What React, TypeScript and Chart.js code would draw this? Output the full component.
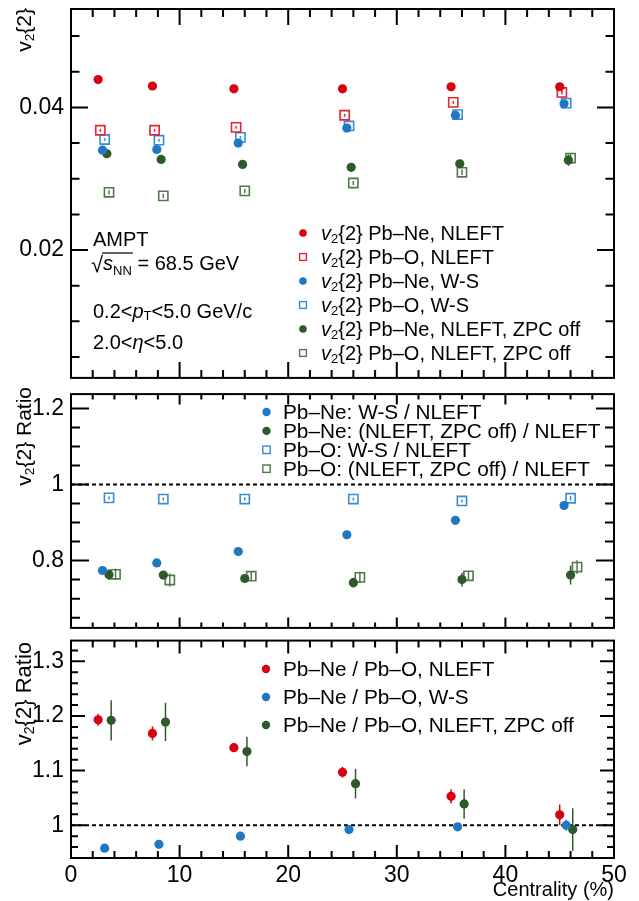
import React, { useEffect, useRef } from "react";
import { Chart, registerables } from "chart.js";

Chart.register(...registerables);

// ---------------- data ----------------
const centrality = [2.5, 7.5, 15, 25, 35, 45];
const xTickValues = [0, 10, 20, 30, 40, 50];

// top panel: v2{2}
const v2PbNeNleft = [0.0439, 0.043, 0.0426, 0.0426, 0.0429, 0.0429];
const v2PbONleft = [0.0368, 0.0368, 0.0372, 0.0389, 0.0407, 0.0421];
const v2PbNeWS = [0.034, 0.0341, 0.035, 0.0371, 0.0389, 0.0405];
const v2PbOWS = [0.0355, 0.0354, 0.0358, 0.0374, 0.039, 0.0406];
const v2PbNeZpc = [0.0335, 0.0327, 0.032, 0.0316, 0.0321, 0.0326];
const v2PbOZpc = [0.0281, 0.0276, 0.0283, 0.0294, 0.0309, 0.0329];

const v2PbNeNleftErr = [0.0002, 0.0002, 0.0002, 0.0002, 0.0002, 0.0003];
const v2PbONleftErr = [0.0002, 0.0002, 0.0002, 0.0002, 0.0002, 0.0003];
const v2PbNeWSErr = [0.0002, 0.0002, 0.0002, 0.0002, 0.0002, 0.0003];
const v2PbOWSErr = [0.0002, 0.0002, 0.0002, 0.0002, 0.0002, 0.0003];
const v2PbNeZpcErr = [0.0004, 0.0004, 0.0003, 0.0003, 0.0005, 0.0008];
const v2PbOZpcErr = [0.0003, 0.0003, 0.0003, 0.0003, 0.0004, 0.0006];

// middle panel: ratios to NLEFT
const ratioNeWS = [0.774, 0.794, 0.824, 0.868, 0.906, 0.945];
const ratioNeZpc = [0.763, 0.762, 0.753, 0.742, 0.75, 0.762];
const ratioOWS = [0.965, 0.962, 0.962, 0.962, 0.957, 0.964];
const ratioOZpc = [0.764, 0.749, 0.759, 0.756, 0.76, 0.783];

const ratioNeWSErr = [0.005, 0.005, 0.005, 0.006, 0.006, 0.012];
const ratioNeZpcErr = [0.014, 0.01, 0.01, 0.013, 0.018, 0.025];
const ratioOWSErr = [0.004, 0.004, 0.004, 0.004, 0.004, 0.006];
const ratioOZpcErr = [0.015, 0.017, 0.013, 0.015, 0.012, 0.018];

// bottom panel: Pb-Ne / Pb-O
const neOverONleft = [1.193, 1.168, 1.142, 1.097, 1.053, 1.019];
const neOverOWS = [0.958, 0.965, 0.98, 0.992, 0.997, 1.0];
const neOverOZpc = [1.192, 1.189, 1.135, 1.076, 1.039, 0.992];

const neOverONleftErr = [0.011, 0.013, 0.008, 0.01, 0.013, 0.019];
const neOverOWSErr = [0.003, 0.003, 0.003, 0.005, 0.004, 0.01];
const neOverOZpcErr = [0.037, 0.035, 0.027, 0.027, 0.027, 0.039];

const topYTicks = [0.02, 0.04];
const midYTicks = [0.8, 1, 1.2];
const botYTicks = [1, 1.1, 1.2, 1.3];

// ---------------- styles ----------------
const FONT = '"Liberation Sans", Arial, Helvetica, sans-serif';
const RED = "#d9000f";
const RED_O = "#e0262e";
const BLUE = "#1f78c4";
const BLUE_O = "#3a8bd2";
const GREEN = "#2e5a29";
const GREEN_O = "#52794c";

type Seg = { t: string; it?: boolean; sub?: boolean; dy?: number };

function drawRich(ctx: CanvasRenderingContext2D, segs: Seg[], x: number, y: number, size: number) {
  let cx = x;
  for (const s of segs) {
    const fs = s.sub ? size * 0.65 : size;
    ctx.font = `${s.it ? "italic " : ""}${fs}px ${FONT}`;
    const dy = s.dy ?? (s.sub ? 3 : 0);
    ctx.fillText(s.t, cx, y + dy);
    cx += ctx.measureText(s.t).width;
  }
  return cx;
}

function richWidth(ctx: CanvasRenderingContext2D, segs: Seg[], size: number) {
  let w = 0;
  for (const s of segs) {
    const fs = s.sub ? size * 0.65 : size;
    ctx.font = `${s.it ? "italic " : ""}${fs}px ${FONT}`;
    w += ctx.measureText(s.t).width;
  }
  return w;
}

function drawMarker(ctx: CanvasRenderingContext2D, kind: string, color: string, x: number, y: number, s: number) {
  ctx.save();
  if (kind === "circle") {
    ctx.fillStyle = color;
    ctx.beginPath();
    ctx.arc(x, y, s, 0, Math.PI * 2);
    ctx.fill();
  } else {
    ctx.strokeStyle = color;
    ctx.lineWidth = 1.4;
    ctx.strokeRect(x - s, y - s, 2 * s, 2 * s);
  }
  ctx.restore();
}

type LegendItem = { segs: Seg[]; kind: string; color: string; s: number };
type PanelCfg = {
  yMajor: number[];
  yMinorStep: number;
  yMajorLen: number;
  yMinorLen: number;
  xMajorLen: number;
  xMinorLen: number;
  dashedAt?: number;
  legend: { mx: number; tx: number; y0: number; dy: number; size: number; items: LegendItem[] };
  yTitle: Seg[];
  yTitleSize: number;
  yTitleX: number;
  yTitleTop: number;
  extra?: (ctx: CanvasRenderingContext2D) => void;
};

function panelPlugin(cfg: PanelCfg) {
  return {
    id: "rootPanel",
    beforeDatasetsDraw(chart: any) {
      const { ctx, chartArea: a } = chart;
      const xs = chart.scales.x;
      const ys = chart.scales.y;
      ctx.save();
      if (cfg.dashedAt !== undefined) {
        const py = ys.getPixelForValue(cfg.dashedAt);
        ctx.strokeStyle = "#000";
        ctx.lineWidth = 2;
        ctx.setLineDash([4, 3]);
        ctx.beginPath();
        ctx.moveTo(a.left, py);
        ctx.lineTo(a.right, py);
        ctx.stroke();
        ctx.setLineDash([]);
      }
      chart.data.datasets.forEach((ds: any) => {
        if (!ds.errors) return;
        ctx.strokeStyle = ds.errColor;
        ctx.lineWidth = 1.5;
        ds.data.forEach((p: any, j: number) => {
          const e = ds.errors[j];
          const px = xs.getPixelForValue(p.x);
          ctx.beginPath();
          ctx.moveTo(px, ys.getPixelForValue(p.y - e));
          ctx.lineTo(px, ys.getPixelForValue(p.y + e));
          ctx.stroke();
        });
      });
      ctx.restore();
    },
    afterDraw(chart: any) {
      const { ctx, chartArea: a } = chart;
      const xs = chart.scales.x;
      const ys = chart.scales.y;
      ctx.save();
      ctx.strokeStyle = "#000";
      ctx.lineWidth = 2;
      ctx.strokeRect(a.left, a.top, a.right - a.left, a.bottom - a.top);
      ctx.beginPath();
      // x ticks (major every 10, minor every 2)
      for (let k = 0; k <= 25; k++) {
        const v = k * 2;
        const px = xs.getPixelForValue(v);
        if (px < a.left - 0.5 || px > a.right + 0.5) continue;
        const L = v % 10 === 0 ? cfg.xMajorLen : cfg.xMinorLen;
        ctx.moveTo(px, a.bottom);
        ctx.lineTo(px, a.bottom - L);
        ctx.moveTo(px, a.top);
        ctx.lineTo(px, a.top + L);
      }
      // y ticks
      const k0 = Math.ceil(ys.min / cfg.yMinorStep - 1e-6);
      const k1 = Math.floor(ys.max / cfg.yMinorStep + 1e-6);
      for (let k = k0; k <= k1; k++) {
        const v = k * cfg.yMinorStep;
        const major = cfg.yMajor.some((m) => Math.abs(m - v) < cfg.yMinorStep * 1e-3);
        const L = major ? cfg.yMajorLen : cfg.yMinorLen;
        const py = ys.getPixelForValue(v);
        ctx.moveTo(a.left, py);
        ctx.lineTo(a.left + L, py);
        ctx.moveTo(a.right, py);
        ctx.lineTo(a.right - L, py);
      }
      ctx.stroke();

      // legend
      ctx.fillStyle = "#000";
      ctx.textBaseline = "alphabetic";
      ctx.textAlign = "left";
      const lg = cfg.legend;
      lg.items.forEach((it, i) => {
        const cy = lg.y0 + i * lg.dy;
        drawMarker(ctx, it.kind, it.color, lg.mx, cy, it.s);
        ctx.fillStyle = "#000";
        drawRich(ctx, it.segs, lg.tx, cy + lg.size * 0.36, lg.size);
      });

      // y title (rotated, aligned to top)
      const tsize = cfg.yTitleSize;
      const w = richWidth(ctx, cfg.yTitle, tsize);
      ctx.save();
      ctx.translate(cfg.yTitleX, cfg.yTitleTop);
      ctx.rotate(-Math.PI / 2);
      ctx.fillStyle = "#000";
      drawRich(ctx, cfg.yTitle, -w, 0, tsize);
      ctx.restore();

      if (cfg.extra) cfg.extra(ctx);
      ctx.restore();
    },
  };
}

function pts(values: number[], shift: number) {
  return values.map((v, i) => ({ x: centrality[i] + shift, y: v }));
}

function ds(label: string, values: number[], errs: number[], shift: number, kind: string, color: string) {
  const circle = kind === "circle";
  return {
    label,
    data: pts(values, shift),
    errors: errs,
    errColor: color,
    pointStyle: circle ? "circle" : "rect",
    pointRadius: circle ? 4.6 : 6.5,
    pointBackgroundColor: circle ? color : "rgba(0,0,0,0)",
    pointBorderColor: color,
    pointBorderWidth: circle ? 0 : 1.6,
    borderColor: color,
    backgroundColor: color,
    showLine: false,
  };
}

function yScale(min: number, max: number, ticks: number[]) {
  return {
    type: "linear",
    min,
    max,
    afterBuildTicks: (s: any) => {
      s.ticks = ticks.map((v) => ({ value: v }));
    },
    afterFit: (s: any) => {
      s.width = 71;
      s.paddingTop = 0;
      s.paddingBottom = 0;
      s.paddingLeft = 0;
      s.paddingRight = 0;
    },
    grid: { display: false, drawTicks: false, tickLength: 0 },
    border: { display: false },
    ticks: {
      color: "#000",
      padding: 7,
      font: { family: FONT, size: 23 },
      callback: (v: any) => String(v),
    },
  };
}

function hiddenX() {
  return {
    type: "linear",
    min: 0,
    max: 50,
    display: false,
    afterFit: (s: any) => {
      s.height = 0;
      s.paddingLeft = 0;
      s.paddingRight = 0;
    },
  };
}

const v2Seg = (rest: string): Seg[] => [{ t: "v", it: true }, { t: "2", sub: true }, { t: rest }];

function topConfig(): any {
  const cfg: PanelCfg = {
    yMajor: topYTicks,
    yMinorStep: 0.005,
    yMajorLen: 17,
    yMinorLen: 8.5,
    xMajorLen: 16,
    xMinorLen: 8,
    legend: {
      mx: 303,
      tx: 321,
      y0: 233,
      dy: 24,
      size: 20,
      items: [
        { segs: v2Seg("{2} Pb–Ne, NLEFT"), kind: "circle", color: RED, s: 3.8 },
        { segs: v2Seg("{2} Pb–O, NLEFT"), kind: "square", color: RED_O, s: 3.4 },
        { segs: v2Seg("{2} Pb–Ne, W-S"), kind: "circle", color: BLUE, s: 3.8 },
        { segs: v2Seg("{2} Pb–O, W-S"), kind: "square", color: BLUE_O, s: 3.4 },
        { segs: v2Seg("{2} Pb–Ne, NLEFT, ZPC off"), kind: "circle", color: GREEN, s: 3.8 },
        { segs: v2Seg("{2} Pb–O, NLEFT, ZPC off"), kind: "square", color: GREEN_O, s: 3.4 },
      ],
    },
    yTitle: [{ t: "v" }, { t: "2", sub: true }, { t: "{2}" }],
    yTitleSize: 21,
    yTitleX: 31,
    yTitleTop: 8,
    extra: (ctx) => {
      ctx.fillStyle = "#000";
      drawRich(ctx, [{ t: "AMPT" }], 93, 246, 20);
      ctx.font = `22px ${FONT}`;
      ctx.fillText("√", 91, 272);
      const sx = 91 + ctx.measureText("√").width;
      const end = drawRich(ctx, [{ t: "s", it: true }, { t: "NN", sub: true, dy: 5 }], sx, 270, 20);
      ctx.strokeStyle = "#000";
      ctx.lineWidth = 1.2;
      ctx.beginPath();
      ctx.moveTo(sx - 1, 253);
      ctx.lineTo(end + 1, 253);
      ctx.stroke();
      drawRich(ctx, [{ t: " = 68.5 GeV" }], end, 270, 20);
      drawRich(
        ctx,
        [{ t: "0.2<" }, { t: "p", it: true }, { t: "T", sub: true, dy: 2 }, { t: "<5.0 GeV/c" }],
        93,
        318,
        20
      );
      drawRich(ctx, [{ t: "2.0<" }, { t: "η", it: true }, { t: "<5.0" }], 93, 349, 20);
    },
  };
  return {
    type: "scatter",
    data: {
      datasets: [
        ds("v2{2} Pb–Ne, NLEFT", v2PbNeNleft, v2PbNeNleftErr, 0, "circle", RED),
        ds("v2{2} Pb–O, NLEFT", v2PbONleft, v2PbONleftErr, 0.2, "square", RED_O),
        ds("v2{2} Pb–Ne, W-S", v2PbNeWS, v2PbNeWSErr, 0.4, "circle", BLUE),
        ds("v2{2} Pb–O, W-S", v2PbOWS, v2PbOWSErr, 0.6, "square", BLUE_O),
        ds("v2{2} Pb–Ne, NLEFT, ZPC off", v2PbNeZpc, v2PbNeZpcErr, 0.8, "circle", GREEN),
        ds("v2{2} Pb–O, NLEFT, ZPC off", v2PbOZpc, v2PbOZpcErr, 1.0, "square", GREEN_O),
      ],
    },
    options: {
      responsive: false,
      animation: false,
      events: [],
      layout: { padding: { top: 9, bottom: 2, left: 0, right: 25 } },
      plugins: { legend: { display: false }, tooltip: { enabled: false } },
      scales: { x: hiddenX(), y: yScale(0.00207, 0.0538, topYTicks) },
    },
    plugins: [panelPlugin(cfg)],
  };
}

function midConfig(): any {
  const cfg: PanelCfg = {
    yMajor: midYTicks,
    yMinorStep: 0.05,
    yMajorLen: 18,
    yMinorLen: 9,
    xMajorLen: 10.5,
    xMinorLen: 5.5,
    dashedAt: 1,
    legend: {
      mx: 266.5,
      tx: 283,
      y0: 26,
      dy: 18.9,
      size: 20.8,
      items: [
        { segs: [{ t: "Pb–Ne: W-S / NLEFT" }], kind: "circle", color: BLUE, s: 4.2 },
        { segs: [{ t: "Pb–Ne: (NLEFT, ZPC off) / NLEFT" }], kind: "circle", color: GREEN, s: 4.2 },
        { segs: [{ t: "Pb–O: W-S / NLEFT" }], kind: "square", color: BLUE_O, s: 3.7 },
        { segs: [{ t: "Pb–O: (NLEFT, ZPC off) / NLEFT" }], kind: "square", color: GREEN_O, s: 3.7 },
      ],
    },
    yTitle: [{ t: "v" }, { t: "2", sub: true }, { t: "{2} Ratio" }],
    yTitleSize: 21,
    yTitleX: 31,
    yTitleTop: 1,
  };
  return {
    type: "scatter",
    data: {
      datasets: [
        ds("Pb–Ne: W-S / NLEFT", ratioNeWS, ratioNeWSErr, 0.4, "circle", BLUE),
        ds("Pb–Ne: (NLEFT, ZPC off) / NLEFT", ratioNeZpc, ratioNeZpcErr, 1.0, "circle", GREEN),
        ds("Pb–O: W-S / NLEFT", ratioOWS, ratioOWSErr, 1.0, "square", BLUE_O),
        ds("Pb–O: (NLEFT, ZPC off) / NLEFT", ratioOZpc, ratioOZpcErr, 1.6, "square", GREEN_O),
      ],
    },
    options: {
      responsive: false,
      animation: false,
      events: [],
      layout: { padding: { top: 4, bottom: 3, left: 0, right: 25 } },
      plugins: { legend: { display: false }, tooltip: { enabled: false } },
      scales: { x: hiddenX(), y: yScale(0.623, 1.238, midYTicks) },
    },
    plugins: [panelPlugin(cfg)],
  };
}

function botConfig(): any {
  const cfg: PanelCfg = {
    yMajor: botYTicks,
    yMinorStep: 0.02,
    yMajorLen: 14,
    yMinorLen: 7,
    xMajorLen: 13,
    xMinorLen: 7,
    dashedAt: 1,
    legend: {
      mx: 266,
      tx: 283,
      y0: 33,
      dy: 28,
      size: 20.8,
      items: [
        { segs: [{ t: "Pb–Ne / Pb–O, NLEFT" }], kind: "circle", color: RED, s: 4.2 },
        { segs: [{ t: "Pb–Ne / Pb–O, W-S" }], kind: "circle", color: BLUE, s: 4.2 },
        { segs: [{ t: "Pb–Ne / Pb–O, NLEFT, ZPC off" }], kind: "circle", color: GREEN, s: 4.2 },
      ],
    },
    yTitle: [{ t: "v" }, { t: "2", sub: true }, { t: "{2} Ratio" }],
    yTitleSize: 22,
    yTitleX: 31,
    yTitleTop: 6,
  };
  return {
    type: "scatter",
    data: {
      datasets: [
        ds("Pb–Ne / Pb–O, NLEFT", neOverONleft, neOverONleftErr, 0, "circle", RED),
        ds("Pb–Ne / Pb–O, W-S", neOverOWS, neOverOWSErr, 0.6, "circle", BLUE),
        ds("Pb–Ne / Pb–O, NLEFT, ZPC off", neOverOZpc, neOverOZpcErr, 1.2, "circle", GREEN),
      ],
    },
    options: {
      responsive: false,
      animation: false,
      events: [],
      layout: { padding: { top: 3, bottom: 0, left: 0, right: 25 } },
      plugins: { legend: { display: false }, tooltip: { enabled: false } },
      scales: {
        x: {
          type: "linear",
          min: 0,
          max: 50,
          afterBuildTicks: (s: any) => {
            s.ticks = xTickValues.map((v) => ({ value: v }));
          },
          afterFit: (s: any) => {
            s.height = 43;
            s.paddingLeft = 0;
            s.paddingRight = 0;
          },
          grid: { display: false, drawTicks: false, tickLength: 0 },
          border: { display: false },
          ticks: {
            color: "#000",
            padding: 4,
            maxRotation: 0,
            font: { family: FONT, size: 23 },
            callback: (v: any) => String(v),
          },
          title: {
            display: true,
            text: "Centrality (%)",
            align: "end",
            color: "#000",
            font: { family: FONT, size: 20, lineHeight: 1.1 },
            padding: { top: 0, bottom: 0 },
          },
        },
        y: yScale(0.94, 1.338, botYTicks),
      },
    },
    plugins: [panelPlugin(cfg)],
  };
}

function Panel({ top, height, make }: { top: number; height: number; make: () => any }) {
  const ref = useRef<HTMLCanvasElement>(null);
  useEffect(() => {
    const chart = new Chart(ref.current as HTMLCanvasElement, make());
    return () => chart.destroy();
  }, []);
  return (
    <canvas
      ref={ref}
      width={639}
      height={height}
      style={{ position: "absolute", left: 0, top, width: 639, height, display: "block" }}
    />
  );
}

export default function App() {
  return (
    <div style={{ position: "absolute", left: 0, top: 0, width: 639, height: 901, background: "#fff" }}>
      <Panel top={0} height={386} make={topConfig} />
      <Panel top={386} height={250} make={midConfig} />
      <Panel top={636} height={265} make={botConfig} />
    </div>
  );
}
